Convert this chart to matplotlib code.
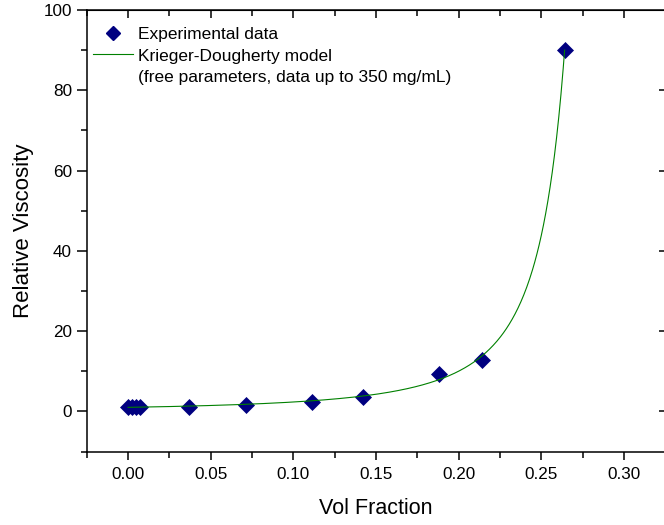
import numpy as np
import matplotlib
matplotlib.use("Agg")
import matplotlib.pyplot as plt
from matplotlib.lines import Line2D

plt.rcParams['font.family'] = ['Liberation Sans', 'DejaVu Sans']

# Experimental data
vol_fraction = [0.0, 0.0024, 0.0048, 0.0072, 0.037, 0.0712, 0.1112, 0.1418, 0.1883, 0.2139, 0.264]
rel_viscosity = [1.0, 1.0, 1.0, 1.0, 1.1, 1.5, 2.3, 3.6, 9.2, 12.8, 90.0]

# Krieger-Dougherty model parameters
phi_max = 0.298
kd_exponent = 2.073
model_range = (0.0, 0.264)

x_ticks = [0.00, 0.05, 0.10, 0.15, 0.20, 0.25, 0.30]
y_ticks = [0, 20, 40, 60, 80, 100]

fig = plt.figure(figsize=(6.64, 5.25), dpi=100)
W, H = 664, 525
ax_h = 451.5 - 10
ax = fig.add_axes([86.7 / W, (525 - 451.5) / H, (665.5 - 86.7) / W, ax_h / H])

phi = np.linspace(model_range[0], model_range[1], 600)
eta = (1 - phi / phi_max) ** (-kd_exponent)
ax.plot(phi, eta, color='#008000', lw=0.8, zorder=3)
ax.plot(vol_fraction, rel_viscosity, linestyle='none', marker='D', ms=8,
        color='#000080', mec='#000080', mew=0.5, zorder=2)

ax.set_xlim(-0.025, 0.3225)
ax.set_ylim(-10, 100)
ax.set_xticks(x_ticks)
ax.set_xticklabels([f"{t:.2f}" for t in x_ticks])
ax.set_xticks(np.arange(-0.025, 0.33, 0.05), minor=True)
ax.set_yticks(y_ticks)
ax.set_yticks(np.arange(-10, 101, 20), minor=True)

for s in ax.spines.values():
    s.set_linewidth(1.1)

ax.tick_params(axis='x', which='major', direction='out', length=5.5, width=1.1, pad=6, labelsize=12.3)
ax.tick_params(axis='x', which='minor', direction='out', length=4, width=1.1)
ax.tick_params(axis='y', which='major', direction='out', length=7, width=1.1, pad=3.5, labelsize=12.3)
ax.tick_params(axis='y', which='minor', direction='out', length=4.5, width=1.1)

top = ax.secondary_xaxis('top')
top.set_xticks(x_ticks)
top.set_xticks(np.arange(-0.025, 0.33, 0.05), minor=True)
top.tick_params(axis='x', which='major', direction='in', length=6, width=1.1, labeltop=False)
top.tick_params(axis='x', which='minor', direction='in', length=4.5, width=1.1)

right = ax.secondary_yaxis('right')
right.set_yticks([0, 20, 40, 60, 80])
right.tick_params(axis='y', which='major', direction='in', length=5, width=1.1, labelright=False)
right.tick_params(axis='y', which='minor', length=0)

ax.set_xlabel('Vol Fraction', fontsize=15.5, labelpad=11)
ax.set_ylabel('Relative Viscosity', fontsize=16, labelpad=7)

fs = 12.5
fpx = fs * 100 / 72
handles = [
    Line2D([], [], linestyle='none', marker='D', ms=7.5, color='#000080'),
    Line2D([], [], color='#008000', lw=0.8),
    Line2D([], [], linestyle='none'),
]
labels = ['Experimental data', 'Krieger-Dougherty model',
          '(free parameters, data up to 350 mg/mL)']
ax.legend(handles, labels, loc='upper left', bbox_to_anchor=(0.0, 1.0 - 11 / ax_h),
          frameon=False, fontsize=fs, handlelength=40 / fpx, handletextpad=5.5 / fpx,
          labelspacing=0.36, borderaxespad=0.0, borderpad=6 / fpx)

fig.savefig('out.png', dpi=100)
